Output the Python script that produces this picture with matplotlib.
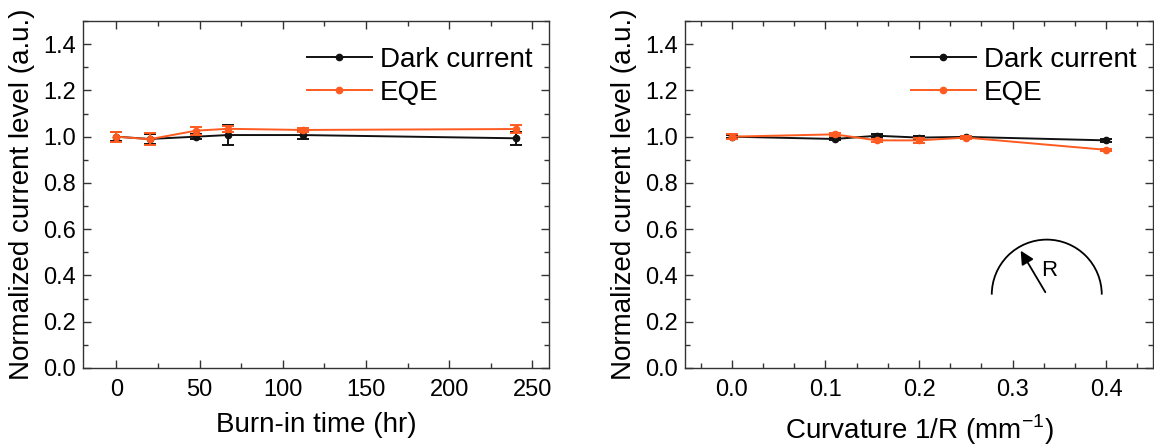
import matplotlib
matplotlib.use("Agg")
import matplotlib.pyplot as plt
from matplotlib.ticker import MultipleLocator, AutoMinorLocator, FormatStrFormatter
from matplotlib.patches import Arc

plt.rcParams['font.family'] = ['Liberation Sans', 'DejaVu Sans']
plt.rcParams['mathtext.fontset'] = 'custom'
plt.rcParams['mathtext.rm'] = 'Liberation Sans'

# ---- data: burn-in ----
burn_time = [0, 20, 48, 67, 112, 240]
burn_dark = [1.000, 0.990, 1.000, 1.007, 1.007, 0.993]
burn_dark_err = [0.020, 0.020, 0.010, 0.045, 0.019, 0.027]
burn_eqe = [1.000, 0.989, 1.026, 1.034, 1.029, 1.033]
burn_eqe_err = [0.022, 0.025, 0.017, 0.014, 0.010, 0.019]

# ---- data: curvature ----
curv = [0.0, 0.11, 0.155, 0.2, 0.25, 0.4]
curv_dark = [1.000, 0.990, 1.004, 0.996, 0.999, 0.984]
curv_dark_err = [0.006, 0.006, 0.007, 0.005, 0.005, 0.006]
curv_eqe = [1.000, 1.010, 0.984, 0.984, 0.996, 0.943]
curv_eqe_err = [0.010, 0.005, 0.005, 0.012, 0.006, 0.004]

series_labels = ["Dark current", "EQE"]
dark_color = "#111111"
eqe_color = "#FF5A1F"

fig = plt.figure(figsize=(11.54, 4.48), dpi=100)
ax1 = fig.add_axes([83/1154, 1-368/448, (549-83)/1154, (368-21)/448])
ax2 = fig.add_axes([685/1154, 1-368/448, (1153-685)/1154, (368-21)/448])

def plot_panel(ax, x, d, de, e, ee):
    c1 = ax.errorbar(x, d, yerr=de, color=dark_color, marker='o', ms=4.5, lw=1.4,
                     capsize=4, capthick=1.4, elinewidth=1.4, zorder=3)
    c2 = ax.errorbar(x, e, yerr=ee, color=eqe_color, marker='o', ms=4.5, lw=1.4,
                     capsize=4, capthick=1.4, elinewidth=1.4, zorder=4)
    return [c1[0], c2[0]]

h1 = plot_panel(ax1, burn_time, burn_dark, burn_dark_err, burn_eqe, burn_eqe_err)
h2 = plot_panel(ax2, curv, curv_dark, curv_dark_err, curv_eqe, curv_eqe_err)

ax1.set_xlim(-20, 260)
ax1.xaxis.set_major_locator(MultipleLocator(50))
ax1.xaxis.set_minor_locator(AutoMinorLocator(2))
ax2.set_xlim(-0.05, 0.45)
ax2.xaxis.set_major_locator(MultipleLocator(0.1))
ax2.xaxis.set_minor_locator(AutoMinorLocator(3))
ax2.xaxis.set_major_formatter(FormatStrFormatter('%.1f'))

for ax, hs in ((ax1, h1), (ax2, h2)):
    ax.set_ylim(0, 1.5)
    ax.yaxis.set_major_locator(MultipleLocator(0.2))
    ax.yaxis.set_minor_locator(AutoMinorLocator(2))
    ax.yaxis.set_major_formatter(FormatStrFormatter('%.1f'))
    ax.tick_params(which='both', direction='in', top=True, right=True, color='#333333', width=1)
    ax.tick_params(which='major', length=6)
    ax.tick_params(which='minor', length=3.5)
    ax.tick_params(axis='x', which='major', labelsize=17, pad=8)
    ax.tick_params(axis='y', which='major', labelsize=17, pad=5)
    for s in ax.spines.values():
        s.set_color('#333333')
        s.set_linewidth(1.0)
    ax.set_ylabel("Normalized current level (a.u.)", fontsize=20, labelpad=6)
    ax.legend(hs, series_labels, loc='upper right', bbox_to_anchor=(0.965, 0.925),
              frameon=False, fontsize=20, handlelength=2.35, handletextpad=0.3,
              labelspacing=0.25, borderpad=0, borderaxespad=0)

ax1.set_xlabel("Burn-in time (hr)", fontsize=20, labelpad=8)
ax2.set_xlabel("Curvature 1/R (mm$^{\\mathregular{-1}}$)", fontsize=20, labelpad=8)

# inset sketch of radius of curvature
cx, cy = 0.773, 0.2115
ax2.add_patch(Arc((cx, cy), 110/468, 110/347, theta1=0, theta2=180,
                  transform=ax2.transAxes, color='black', lw=1.3))
ax2.annotate("", xy=(0.7143, 0.345), xytext=(cx, cy), xycoords='axes fraction',
             textcoords='axes fraction',
             arrowprops=dict(arrowstyle='-|>', color='black', lw=1.3, mutation_scale=20))
ax2.text(0.7777, 0.2824, "R", transform=ax2.transAxes, fontsize=16, ha='center', va='center')

fig.savefig("out.png", dpi=100)
